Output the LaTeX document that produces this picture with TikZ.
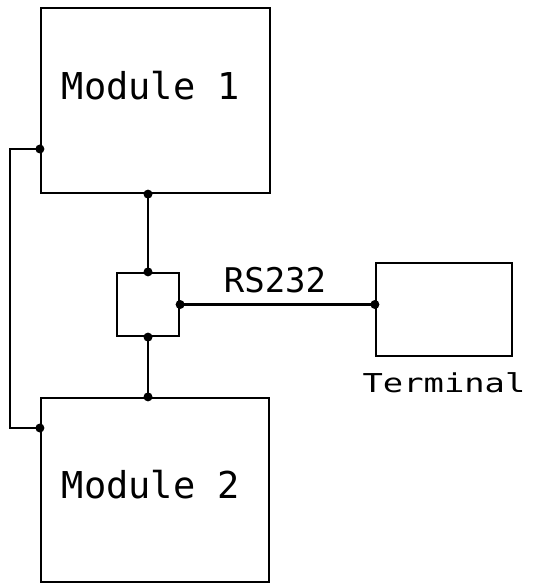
\documentclass[tikz,border=0pt]{standalone}
\usepackage{fontspec}
\newfontfamily\plotfont{DejaVu Sans Mono}

\begin{document}
\begin{tikzpicture}[x=1pt, y=-1pt, line width=2.2pt,
    box/.style={draw, rectangle, inner sep=0pt},
    lbl/.style={anchor=base, inner sep=0pt, font=\plotfont\fontsize{#1}{#1}\selectfont},
    dot/.style={circle, fill, inner sep=0pt, minimum size=9pt}]
    \useasboundingbox (0,0) rectangle (535,585);

    \node[box, minimum width=229pt, minimum height=185pt] (mod1) at (155.5,100.5) {};
    \node[box, minimum width=228pt, minimum height=184pt] (mod2) at (155,490) {};
    \node[box, minimum width=62pt, minimum height=63pt] (hub) at (148,304.5) {};
    \node[box, minimum width=136pt, minimum height=93pt] (term) at (444,309.5) {};

    \node[lbl=37] (mod1txt) at (151,100) {Module 1};
    \node[lbl=37] (mod2txt) at (151,498) {Module 2};
    \node[lbl=34] (rstxt) at (275,292) {RS232};
    \node[anchor=base, inner sep=0pt] (termtxt) at (444,392)
        {\scalebox{1.3}[1]{\plotfont\fontsize{26}{26}\selectfont Terminal}};

    % bus between the modules
    \coordinate (m1s) at (mod1.south -| hub);
    \coordinate (m2n) at (mod2.north -| hub);
    \draw (m1s) -- (hub.north);
    \draw (hub.south) -- (m2n);
    \draw (hub.east) -- (term.west |- hub.east);
    \foreach \p in {m1s, m2n, hub.north, hub.south, hub.east}
        \node[dot] at (\p) {};
    \node[dot] at (term.west |- hub.east) {};

    % loop on the left
    \coordinate (m1w) at ([yshift=-48.5pt]mod1.west);
    \coordinate (m2w) at ([yshift=62pt]mod2.west);
    \draw (m1w) -- (10,149) -- (10,428) -- (m2w);
    \node[dot] at (m1w) {};
    \node[dot] at (m2w) {};
\end{tikzpicture}
\end{document}
